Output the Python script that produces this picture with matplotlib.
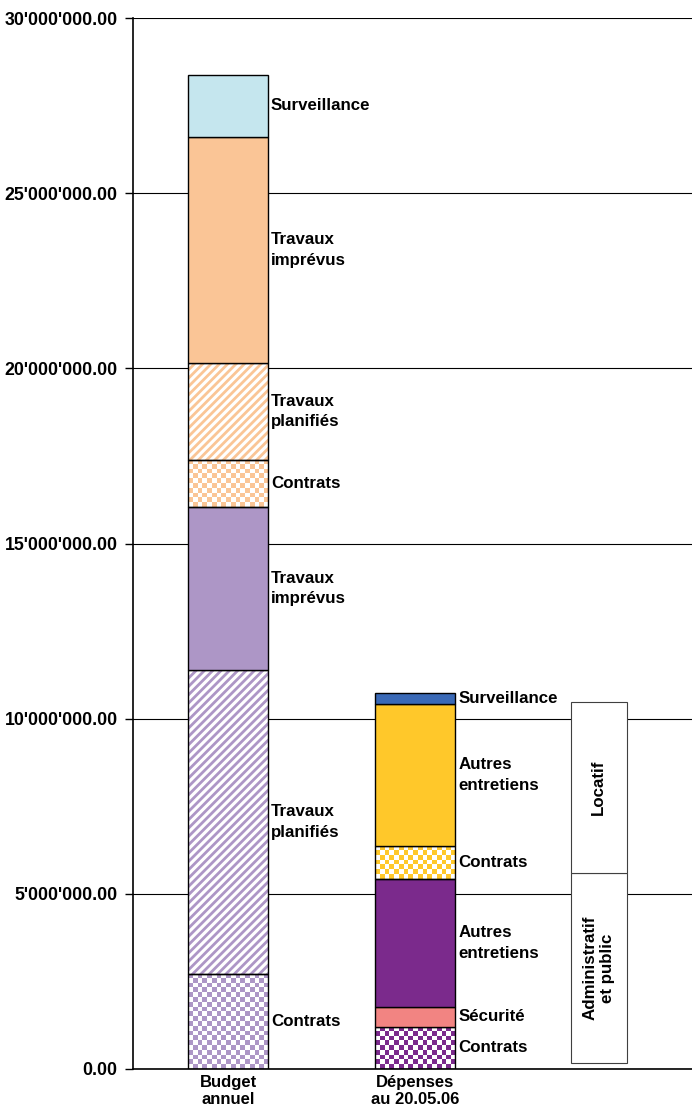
import numpy as np
import matplotlib.pyplot as plt
from matplotlib.ticker import FuncFormatter
from matplotlib.colors import ListedColormap

plt.rcParams['font.family'] = ['Liberation Sans', 'DejaVu Sans']
plt.rcParams['hatch.linewidth'] = 2.0

# budget annuel (bas -> haut)
budget_labels = ['Contrats', 'Travaux\nplanifiés', 'Travaux\nimprévus', 'Contrats',
                 'Travaux\nplanifiés', 'Travaux\nimprévus', 'Surveillance']
budget_values = [2720000, 8670000, 4650000, 1350000, 2760000, 6450000, 1780000]
budget_colors = ['#ad96c6', '#ad96c6', '#ad96c6', '#fac596', '#fac596', '#fac596', '#c5e6ee']
budget_styles = ['checker', 'hatch', 'solid', 'checker', 'hatch', 'solid', 'solid']

# dépenses au 20.05.06
dep_labels = ['Contrats', 'Sécurité', 'Autres\nentretiens', 'Contrats',
              'Autres\nentretiens', 'Surveillance']
dep_values = [1200000, 570000, 3650000, 950000, 4050000, 300000]
dep_colors = ['#7b2a8c', '#f28482', '#7b2a8c', '#ffc82a', '#ffc82a', '#3a69b6']
dep_styles = ['checker', 'solid', 'solid', 'checker', 'solid', 'solid']

# regroupement
group_labels = ['Administratif\net public', 'Locatif']
group_bottom = [170000, 5600000]
group_top = [5600000, 10480000]

categories = ['Budget\nannuel', 'Dépenses\nau 20.05.06']
positions = [0.511, 1.516]

fig = plt.figure(figsize=(6.92, 11.14), dpi=100)
ax = fig.add_axes([0.192, 0.0404, 0.808, 0.9434])
ax.set_xlim(0, 3)
ax.set_ylim(0, 30000000)
W = 0.43
FS = 12.2


def checker(ax, x0, y0, x1, y1, color, patch):
    # damier ~5px
    nx = 17
    ny = max(1, int(round((y1 - y0) / 30000000 * 1051 / 4.7)))
    img = np.indices((ny, nx)).sum(axis=0) % 2
    cm = ListedColormap(['white', color])
    im = ax.imshow(img, cmap=cm, extent=(x0, x1, y0, y1), aspect='auto',
                   interpolation='nearest', origin='lower', zorder=2)
    im.set_clip_path(patch)


def stack(x, values, colors, styles, labels):
    bottom = 0
    for v, c, s, lab in zip(values, colors, styles, labels):
        if s == 'solid':
            ax.bar(x, v, W, bottom=bottom, color=c, edgecolor='black', linewidth=1, zorder=3)
        elif s == 'hatch':
            ax.bar(x, v, W, bottom=bottom, color='white', edgecolor=c, hatch='////',
                   linewidth=0, zorder=2)
            ax.bar(x, v, W, bottom=bottom, fill=False, edgecolor='black', linewidth=1, zorder=3)
        else:
            b = ax.bar(x, v, W, bottom=bottom, color='white', linewidth=0, zorder=1)
            checker(ax, x - W / 2, bottom, x + W / 2, bottom + v, c, b[0])
            ax.bar(x, v, W, bottom=bottom, fill=False, edgecolor='black', linewidth=1, zorder=3)
        ax.text(x + W / 2 + 0.015, bottom + v / 2, lab, ha='left', va='center',
                fontsize=FS, fontweight='bold', linespacing=1.45, zorder=4)
        bottom += v


stack(positions[0], budget_values, budget_colors, budget_styles, budget_labels)
stack(positions[1], dep_values, dep_colors, dep_styles, dep_labels)

for b, t, lab in zip(group_bottom, group_top, group_labels):
    ax.bar(2.5, t - b, 0.30, bottom=b, color='white', edgecolor='#404040', linewidth=0.8, zorder=3)
    ax.text(2.5, (b + t) / 2, lab, rotation=90, ha='center', va='center',
            fontsize=FS, fontweight='bold', linespacing=1.25, zorder=4)

ax.set_yticks(np.arange(0, 30000001, 5000000))
ax.yaxis.set_major_formatter(FuncFormatter(lambda v, p: f"{v:,.2f}".replace(',', "'")))
ax.yaxis.grid(True, color='black', linewidth=0.8, zorder=0)
ax.set_axisbelow(True)
ax.tick_params(axis='y', length=6, width=1, labelsize=12.8, pad=5)
for lab in ax.get_yticklabels():
    lab.set_fontweight('bold')

ax.set_xticks(positions)
ax.set_xticklabels(categories, fontsize=12, fontweight='bold', linespacing=1.2)
ax.tick_params(axis='x', length=0, pad=4)

ax.spines['top'].set_visible(False)
ax.spines['right'].set_visible(False)
ax.spines['left'].set_linewidth(1.2)
ax.spines['bottom'].set_linewidth(1.2)

fig.savefig('out.png', dpi=100)
